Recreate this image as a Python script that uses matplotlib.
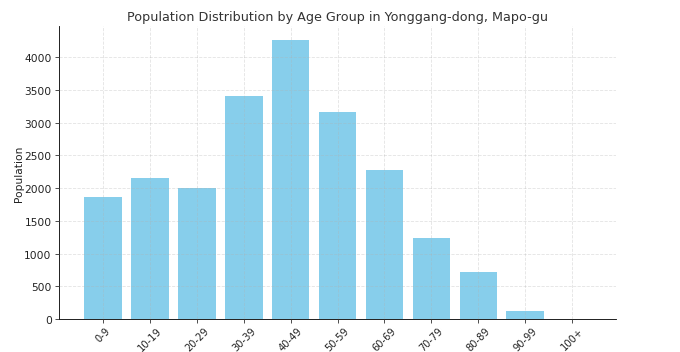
import matplotlib
matplotlib.use('Agg')
import matplotlib.pyplot as plt

age_groups = ['0-9', '10-19', '20-29', '30-39', '40-49', '50-59',
              '60-69', '70-79', '80-89', '90-99', '100+']
population = [1860, 2160, 2005, 3400, 4260, 3170, 2275, 1240, 715, 120, 5]

fig = plt.figure(figsize=(680 / 76.5, 353 / 76.5), dpi=76.5)
ax = fig.add_axes([0.087, 0.093, 0.819, 0.830])

ax.bar(age_groups, population, color='skyblue')
ax.set_title('Population Distribution by Age Group in Yonggang-dong, Mapo-gu', color='#333333')
ax.set_ylabel('Population', color='#222222', labelpad=0)
ax.tick_params(axis='x', rotation=45, labelsize=9.3, pad=2)
ax.tick_params(colors='#333333', labelcolor='#222222')
ax.grid(True, linestyle='--', alpha=0.35)
ax.set_axisbelow(False)
for s in ['top', 'right']:
    ax.spines[s].set_visible(False)

fig.savefig('out.png')
